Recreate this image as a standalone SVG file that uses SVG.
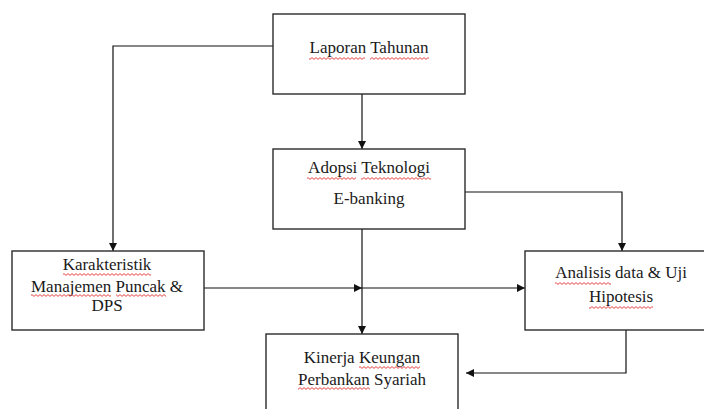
<svg xmlns="http://www.w3.org/2000/svg" width="704" height="409" viewBox="0 0 704 409">
<style>
.box{fill:#fff;stroke:#2b2b2b;stroke-width:1.4}
.t{font-family:"Liberation Serif","Times New Roman",serif;font-size:17px;fill:#1a1a1a;text-anchor:middle}
.c{fill:none;stroke:#111;stroke-width:1.2}
.sq{fill:url(#wave)}
</style>
<defs>
<marker id="ah" viewBox="0 0 10 10" refX="10" refY="5" markerWidth="9" markerHeight="8" markerUnits="userSpaceOnUse" orient="auto">
<path d="M0,0 L10,5 L0,10 Z" fill="#111"/>
</marker>
<pattern id="wave" patternUnits="userSpaceOnUse" x="0" y="0" width="4" height="3">
<path d="M0,0.6 L2,2.4 L4,0.6" fill="none" stroke="#e03030" stroke-width="0.9"/>
</pattern>
</defs>
<g id="connectors">
<path class="c" d="M273,46 H113 V251" marker-end="url(#ah)"/>
<path class="c" d="M362,94 V149" marker-end="url(#ah)"/>
<path class="c" d="M465,192 H622 V251" marker-end="url(#ah)"/>
<path class="c" d="M204,288 H362" marker-end="url(#ah)"/>
<path class="c" d="M362,288 H525" marker-end="url(#ah)"/>
<path class="c" d="M362,229 V334" marker-end="url(#ah)"/>
<path class="c" d="M626,330 V373 H466" marker-end="url(#ah)"/>
</g>
<g id="laporan">
<rect class="box" x="273" y="14" width="192" height="80"/>
<text class="t" x="369" y="53"><tspan>Laporan</tspan> <tspan>Tahunan</tspan></text>
<rect class="sq" x="309" y="57" width="56" height="3"/>
<rect class="sq" x="370" y="57" width="59" height="3"/>
</g>
<g id="adopsi">
<rect class="box" x="273" y="149" width="192" height="80"/>
<text class="t" x="369" y="173"><tspan>Adopsi</tspan> <tspan>Teknologi</tspan></text>
<text class="t" x="369" y="204">E-banking</text>
<rect class="sq" x="307" y="177" width="49" height="3"/>
<rect class="sq" x="361" y="177" width="70" height="3"/>
</g>
<g id="karakteristik">
<rect class="box" x="12" y="251" width="192" height="79"/>
<text class="t" x="107" y="270"><tspan>Karakteristik</tspan></text>
<text class="t" x="107" y="292"><tspan>Manajemen</tspan> <tspan>Puncak</tspan> &amp;</text>
<text class="t" x="107" y="311">DPS</text>
<rect class="sq" x="63" y="273" width="88" height="3"/>
<rect class="sq" x="31" y="294" width="80" height="3"/>
<rect class="sq" x="116" y="294" width="50" height="3"/>
</g>
<g id="analisis">
<rect class="box" x="525" y="251" width="180" height="79"/>
<text class="t" x="621" y="278"><tspan>Analisis</tspan> data &amp; Uji</text>
<text class="t" x="621" y="302"><tspan>Hipotesis</tspan></text>
<rect class="sq" x="555" y="282" width="56" height="3"/>
<rect class="sq" x="589" y="306" width="64" height="3"/>
</g>
<g id="kinerja">
<rect class="box" x="266" y="334" width="192" height="80"/>
<text class="t" x="362" y="363">Kinerja <tspan>Keungan</tspan></text>
<text class="t" x="362" y="385"><tspan>Perbankan</tspan> Syariah</text>
<rect class="sq" x="359" y="366" width="61" height="3"/>
<rect class="sq" x="298" y="387" width="72" height="3"/>
</g>
</svg>
